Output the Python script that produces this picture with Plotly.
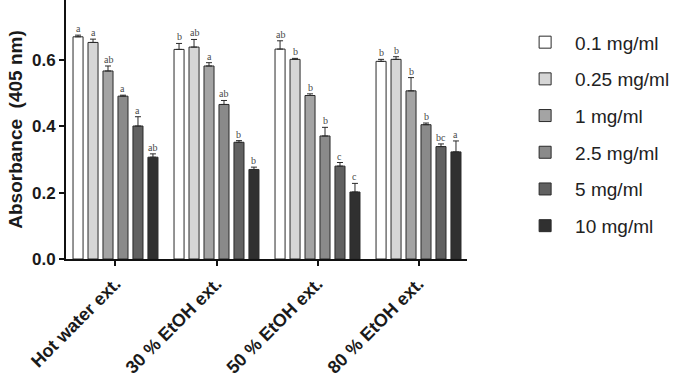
import plotly.graph_objects as go

categories = ["Hot water ext.", "30 % EtOH ext.", "50 % EtOH ext.", "80 % EtOH ext."]
series_names = ["0.1 mg/ml", "0.25 mg/ml", "1 mg/ml", "2.5 mg/ml", "5 mg/ml", "10 mg/ml"]

v_01 = [0.670, 0.632, 0.633, 0.596]
v_025 = [0.653, 0.639, 0.602, 0.602]
v_1 = [0.567, 0.582, 0.493, 0.507]
v_25 = [0.491, 0.466, 0.371, 0.405]
v_5 = [0.401, 0.352, 0.280, 0.339]
v_10 = [0.307, 0.270, 0.202, 0.323]

e_01 = [0.005, 0.018, 0.025, 0.006]
e_025 = [0.010, 0.023, 0.003, 0.008]
e_1 = [0.015, 0.010, 0.005, 0.040]
e_25 = [0.003, 0.012, 0.026, 0.005]
e_5 = [0.028, 0.005, 0.011, 0.008]
e_10 = [0.010, 0.007, 0.026, 0.033]

l_01 = ["a", "b", "ab", "b"]
l_025 = ["a", "ab", "b", "b"]
l_1 = ["ab", "a", "b", "b"]
l_25 = ["a", "ab", "b", "b"]
l_5 = ["a", "b", "c", "bc"]
l_10 = ["ab", "b", "c", "a"]

values = [v_01, v_025, v_1, v_25, v_5, v_10]
errors = [e_01, e_025, e_1, e_25, e_5, e_10]
letters = [l_01, l_025, l_1, l_25, l_5, l_10]
fills = ["#ffffff", "#d6d6d6", "#a4a4a4", "#8a8a8a", "#616161", "#303030"]

BARGAP = 0.11
BARGROUPGAP = 0.33
n = len(series_names)
xpos = list(range(len(categories)))

fig = go.Figure()
annotations = []
slot = (1 - BARGAP) / n
for j in range(n):
    fig.add_trace(go.Bar(
        x=xpos, y=values[j], name=series_names[j],
        legendgroup=series_names[j],
        marker=dict(color=fills[j], line=dict(color="#2a2a2a", width=1)),
        error_y=dict(type="data", array=errors[j], arrayminus=[0] * len(xpos),
                     symmetric=False, color="#2a2a2a", thickness=1, width=3),
    ))
    for i in xpos:
        cx = i - (1 - BARGAP) / 2 + slot * (j + 0.5)
        annotations.append(dict(
            x=cx, y=values[j][i] + errors[j][i], xref="x", yref="y",
            text=letters[j][i], showarrow=False, yanchor="bottom", yshift=-1,
            font=dict(size=10, color="#4a4a4a", family="Liberation Serif, serif"),
        ))

fig.update_layout(
    width=683, height=381,
    margin=dict(l=66, r=216, t=0, b=122),
    plot_bgcolor="white", paper_bgcolor="white",
    barmode="group", bargap=BARGAP, bargroupgap=BARGROUPGAP,
    font=dict(family="Liberation Sans, Arial, sans-serif", color="#1a1a1a"),
    annotations=annotations,
    showlegend=True,
    legend=dict(x=1.12, y=0.91, xanchor="left", yanchor="top",
                font=dict(size=19, color="#222222"),
                tracegroupgap=9, itemwidth=50, bgcolor="rgba(0,0,0,0)"),
)
fig.update_xaxes(
    range=[-0.49, 3.48], tickvals=xpos, ticktext=categories, tickangle=-45,
    showline=True, linecolor="#111111", linewidth=2, ticks="outside",
    ticklen=5, tickwidth=2, tickcolor="#111111", showgrid=False, zeroline=False,
    automargin=False,
    tickfont=dict(size=18, color="#1a1a1a", weight="bold"),
)
fig.update_yaxes(
    range=[0, 0.781], tickvals=[0, 0.2, 0.4, 0.6, 0.8], ticktext=["0.0", "0.2", "0.4", "0.6", "0.8"],
    showline=True, linecolor="#111111", linewidth=2, ticks="outside",
    ticklen=5, tickwidth=2, tickcolor="#111111", showgrid=False, zeroline=False,
    automargin=False,
    tickfont=dict(size=17, color="#1a1a1a", weight="bold"),
    title=dict(text="Absorbance  (405 nm)", font=dict(size=19, color="#1a1a1a", weight="bold"), standoff=4),
)

fig.write_html("out.html")
